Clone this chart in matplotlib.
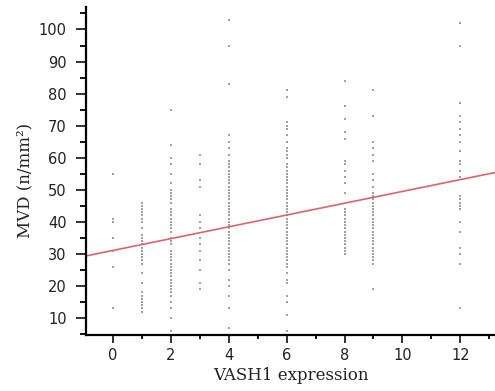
#---Scatter of MVD against VASH1 expression with fitted line---
import numpy as np
import matplotlib.pyplot as plt
from matplotlib.ticker import MultipleLocator


#---Data (MVD values per VASH1 score)---
vash_levels = [0, 1, 2, 3, 4, 6, 8, 9, 12]
mvd_0 = [55, 41, 40, 35, 31, 26, 13]
mvd_1 = [46, 45, 44, 43, 42, 41, 40, 38, 36, 35, 34, 33, 32, 31, 30, 29,
         28, 27, 24, 21, 18, 17, 16, 15, 14, 13, 12]
mvd_2 = [75, 64, 60, 58, 55, 52, 50, 49, 48, 47, 46, 44, 43, 42, 41, 40,
         39, 38, 37, 35, 34, 33, 31, 30, 29, 28, 27, 26, 25, 24, 23, 22,
         21, 20, 19, 18, 17, 15, 13, 10, 6]
mvd_3 = [61, 58, 53, 51, 42, 40, 38, 35, 33, 31, 28, 25, 21, 19]
mvd_4 = [103, 95, 83, 67, 65, 63, 61, 59, 58, 57, 56, 55, 54, 53, 52, 51,
         50, 49, 48, 47, 46, 45, 44, 43, 42, 41, 40, 39, 38, 37, 36, 35,
         34, 33, 32, 31, 30, 29, 28, 27, 25, 22, 20, 17, 13, 7]
mvd_6 = [81, 79, 71, 70, 69, 67, 65, 63, 62, 61, 60, 58, 57, 56, 55, 54,
         53, 52, 51, 50, 49, 48, 47, 46, 45, 44, 43, 42, 41, 40, 39, 38,
         37, 36, 35, 34, 33, 32, 31, 30, 29, 28, 27, 26, 24, 22, 21, 17,
         15, 11, 6]
mvd_8 = [84, 76, 72, 68, 66, 59, 58, 56, 54, 52, 49, 44, 43, 42, 41, 40,
         39, 38, 37, 36, 35, 34, 33, 32, 31, 30]
mvd_9 = [81, 73, 65, 63, 61, 59, 55, 53, 51, 49, 48, 47, 46, 45, 44, 43,
         42, 41, 40, 39, 38, 37, 36, 35, 34, 33, 32, 31, 30, 29, 28, 27, 19]
mvd_12 = [102, 95, 77, 73, 71, 69, 67, 65, 62, 59, 58, 56, 54, 48, 47, 46,
          45, 44, 40, 37, 32, 30, 27, 13]
mvd_groups = [mvd_0, mvd_1, mvd_2, mvd_3, mvd_4, mvd_6, mvd_8, mvd_9, mvd_12]

#Fitted line.
fit_intercept = 31.1
fit_slope = 1.84


#---Flatten into x/y arrays---
x = np.concatenate([[lv] * len(g) for lv, g in zip(vash_levels, mvd_groups)])
y = np.concatenate(mvd_groups)


#---Plot---
fig = plt.figure(figsize=(4.95, 3.91), dpi=100)
ax = fig.add_axes([0.174, 0.143, 0.826, 0.839])

ax.plot(x, y, 's', color='#a0a0a0', markersize=2.0, markeredgewidth=0)
ax.axline((0, fit_intercept), slope=fit_slope, color='#d9646f', linewidth=1.2)

ax.set_xlim(-0.93, 13.2)
ax.set_ylim(4.7, 107)
ax.xaxis.set_major_locator(MultipleLocator(2))
ax.xaxis.set_minor_locator(MultipleLocator(1))
ax.yaxis.set_major_locator(MultipleLocator(10))
ax.yaxis.set_minor_locator(MultipleLocator(5))
ax.set_yticks(range(10, 101, 10))

for side in ['top', 'right']:
    ax.spines[side].set_visible(False)
for side in ['left', 'bottom']:
    ax.spines[side].set_linewidth(1.6)

ax.tick_params(axis='y', which='major', length=7, width=1.3, pad=7,
               labelsize=10.5, colors='#222222')
ax.tick_params(axis='y', which='minor', length=4, width=1.3)
ax.tick_params(axis='x', which='major', length=6, width=1.3, pad=3,
               labelsize=10.5, colors='#222222')
ax.tick_params(axis='x', which='minor', length=3, width=1.3)

ax.set_xlabel("VASH1 expression", family='DejaVu Serif', fontsize=12,
              labelpad=3, color='#222222')
ax.set_ylabel("MVD (n/mm²)", family='DejaVu Serif', fontsize=12,
              color='#222222')
ax.yaxis.set_label_coords(-0.13, 0.47)

fig.savefig("out.png", dpi=100)
